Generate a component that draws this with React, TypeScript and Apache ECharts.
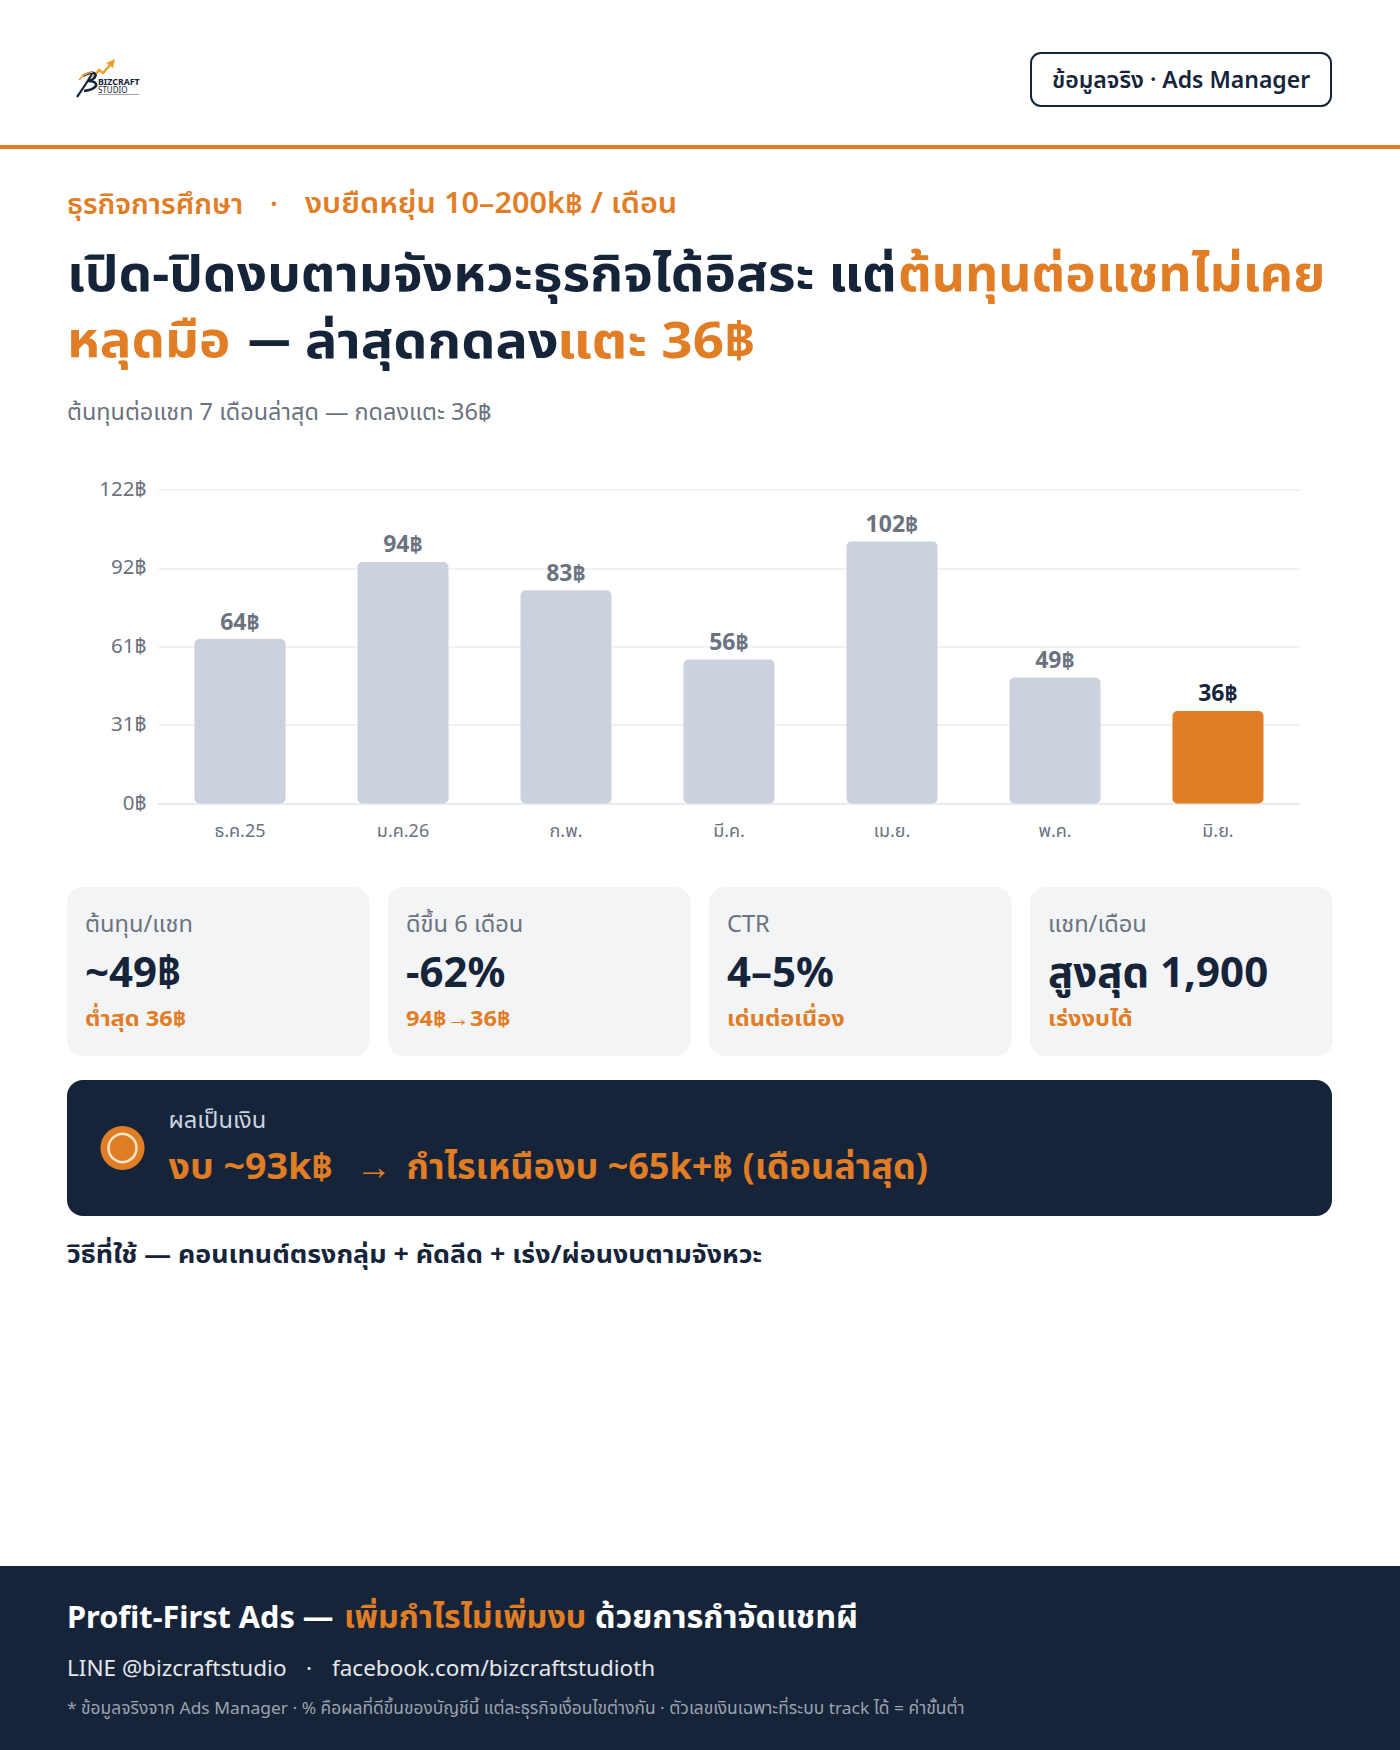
import { useEffect, useRef } from 'react';
import * as echarts from 'echarts';

const months = ['ธ.ค.25', 'ม.ค.26', 'ก.พ.', 'มี.ค.', 'เม.ย.', 'พ.ค.', 'มิ.ย.'];
const costPerChat = [64, 94, 83, 56, 102, 49, 36];

const cardLabels = ['ต้นทุน/แชท', 'ดีขึ้น 6 เดือน', 'CTR', 'แชท/เดือน'];
const cardValues = ['~49฿', '-62%', '4–5%', 'สูงสุด 1,900'];
const cardNotes = ['ต่ำสุด 36฿', '94฿→36฿', 'เด่นต่อเนื่อง', 'เร่งงบได้'];

const ORANGE = '#e07d25';
const NAVY = '#16243a';
const GRAY = '#6b7280';
const FONT = '"Noto Sans", "Noto Sans Thai", sans-serif';

echarts.graphic.registerShape('logoStem', echarts.graphic.extendPath('M92 74 Q86 84 77 97', {}));
echarts.graphic.registerShape(
  'logoBowl',
  echarts.graphic.extendPath('M83 76 Q94 70 95.5 75 Q96 79 88 81 Q97 81 96 86 Q93 90 84 91', {})
);
echarts.graphic.registerShape('logoTop', echarts.graphic.extendPath('M79 80 Q84 73 93 72', {}));

// the reference face is wider than the installed Thai one, so spans take a horizontal scale
function text(x: number, y: number, value: string, fontSize: number, fill: string, fontWeight: number | string = 400, scaleX = 1) {
  return {
    type: 'text',
    x,
    y,
    scaleX,
    style: { text: value, fontSize, fill, fontWeight, fontFamily: FONT, textVerticalAlign: 'middle' }
  };
}

function cardElements() {
  return cardLabels.flatMap((label, i) => {
    const left = 67 + i * 321;
    return [
      { type: 'rect', shape: { x: left, y: 887, width: 302.5, height: 169, r: 16 }, style: { fill: '#f3f4f6' } },
      text(left + 18, 923, label, 23, GRAY, 400, 1.03),
      text(left + 18, 970, cardValues[i], 42, NAVY, 700),
      text(left + 18, 1018, cardNotes[i], 22, ORANGE, 700, 1.07)
    ];
  });
}

function buildOption() {
  return {
    animation: false,
    grid: { left: 158.5, right: 100.5, top: 490, height: 313.5 },
    xAxis: {
      type: 'category',
      data: months,
      axisTick: { show: false },
      axisLine: { lineStyle: { color: '#e5e7eb', width: 1.5 } },
      axisLabel: { color: GRAY, fontSize: 18, fontFamily: FONT, margin: 17 }
    },
    yAxis: {
      type: 'value',
      min: 0,
      max: 122,
      interval: 30.5,
      axisLine: { show: false },
      axisTick: { show: false },
      splitLine: { lineStyle: { color: '#eceef1', width: 1.5 } },
      axisLabel: {
        margin: 12,
        formatter: (value: number) => `{v|${Math.round(value)}฿}`,
        rich: { v: { color: GRAY, fontSize: 20.5, fontFamily: FONT, padding: [0, 0, 4, 0] } }
      }
    },
    series: [
      {
        type: 'bar',
        barWidth: 91,
        data: costPerChat.map((value, i) => ({
          value,
          itemStyle: { color: i === costPerChat.length - 1 ? ORANGE : '#cbd2de', borderRadius: 5 },
          label: { color: i === costPerChat.length - 1 ? NAVY : GRAY }
        })),
        label: {
          show: true,
          position: 'top',
          distance: 7,
          fontSize: 23,
          fontWeight: 700,
          fontFamily: FONT,
          formatter: (params: any) => `${params.value}฿`
        }
      }
    ],
    graphic: {
      elements: [
        { type: 'rect', shape: { x: 0, y: 145, width: 1400, height: 4 }, style: { fill: ORANGE } },
        // logo
        { type: 'polyline', shape: { points: [[93, 78], [99, 70], [103, 73], [111, 64]] }, style: { stroke: '#eda02f', fill: 'none', lineWidth: 2.5 } },
        { type: 'polygon', shape: { points: [[115, 59], [113, 68], [106, 63]] }, style: { fill: '#eda02f' } },
        { type: 'logoStem', style: { fill: 'none', stroke: NAVY, lineWidth: 2.2 } },
        { type: 'logoBowl', style: { fill: 'none', stroke: NAVY, lineWidth: 2.6 } },
        { type: 'logoTop', style: { fill: 'none', stroke: '#eda02f', lineWidth: 1.6 } },
        text(98, 81.5, 'BIZCRAFT', 8.8, NAVY, 700),
        text(98, 89.5, 'STUDIO', 8, NAVY),
        { type: 'line', shape: { x1: 98, y1: 94.5, x2: 139, y2: 94.5 }, style: { stroke: '#9aa3af', lineWidth: 1 } },
        // badge
        { type: 'rect', shape: { x: 1031, y: 53, width: 300, height: 53, r: 10 }, style: { fill: '#fff', stroke: NAVY, lineWidth: 2 } },
        text(1052, 78.5, 'ข้อมูลจริง · Ads Manager', 23, NAVY, 600),
        // headline
        text(67, 203, 'ธุรกิจการศึกษา', 28, ORANGE, 600, 1.03),
        text(270, 203, '·', 28, ORANGE, 600),
        text(305, 203, 'งบยืดหยุ่น 10–200k฿ / เดือน', 28, ORANGE, 600, 1.095),
        text(67, 272, 'เปิด-ปิดงบตามจังหวะธุรกิจได้อิสระ แต่', 50, NAVY, 700, 1.064),
        text(898, 272, 'ต้นทุนต่อแชทไม่เคย', 50, ORANGE, 700, 1.032),
        text(67, 338, 'หลุดมือ', 50, ORANGE, 700, 1.056),
        text(248, 338, '—', 50, NAVY, 700, 0.85),
        text(305, 338, 'ล่าสุดกดลง', 50, NAVY, 700, 1.08),
        text(557, 338, 'แตะ 36฿', 50, ORANGE, 700, 1.096),
        text(67, 411, 'ต้นทุนต่อแชท 7 เดือนล่าสุด — กดลงแตะ 36฿', 23, GRAY, 400, 1.02),
        ...cardElements(),
        // result strip
        { type: 'rect', shape: { x: 67, y: 1080, width: 1265, height: 136, r: 16 }, style: { fill: NAVY } },
        { type: 'circle', shape: { cx: 122.5, cy: 1148, r: 22 }, style: { fill: ORANGE } },
        { type: 'circle', shape: { cx: 122.5, cy: 1148, r: 14 }, style: { fill: ORANGE, stroke: '#fbe3c8', lineWidth: 2.5 } },
        text(168.5, 1119, 'ผลเป็นเงิน', 23, '#cbd5e1', 400, 1.03),
        text(168.5, 1165, 'งบ ~93k฿', 36, ORANGE, 700, 1.044),
        text(356, 1165, '→', 36, ORANGE, 700),
        text(406.5, 1165, 'กำไรเหนืองบ ~65k+฿ (เดือนล่าสุด)', 36, ORANGE, 700),
        text(67, 1253, 'วิธีที่ใช้ — คอนเทนต์ตรงกลุ่ม + คัดลีด + เร่ง/ผ่อนงบตามจังหวะ', 25, NAVY, 700, 1.072),
        // footer
        { type: 'rect', shape: { x: 0, y: 1566, width: 1400, height: 184 }, style: { fill: NAVY } },
        text(67, 1616, 'Profit-First Ads —', 31, '#ffffff', 700, 0.99),
        text(344, 1616, 'เพิ่มกำไรไม่เพิ่มงบ', 31, ORANGE, 700, 1.04),
        text(595, 1616, 'ด้วยการกำจัดแชทผี', 31, '#ffffff', 700, 1.044),
        text(67, 1667, 'LINE @bizcraftstudio', 22.5, '#e5e7eb'),
        text(306, 1667, '·', 22.5, '#e5e7eb'),
        text(332, 1667, 'facebook.com/bizcraftstudioth', 22.5, '#e5e7eb'),
        text(67, 1708, '* ข้อมูลจริงจาก Ads Manager · % คือผลที่ดีขึ้นของบัญชีนี้ แต่ละธุรกิจเงื่อนไขต่างกัน · ตัวเลขเงินเฉพาะที่ระบบ track ได้ = ค่าขั้นต่ำ', 17, '#9ca3af', 400, 1.024)
      ]
    }
  };
}

export default function App() {
  const containerRef = useRef<HTMLDivElement | null>(null);

  useEffect(() => {
    if (!containerRef.current) return undefined;
    document.body.style.margin = '0';
    const chart = echarts.init(containerRef.current, undefined, { renderer: 'svg' });
    chart.setOption(buildOption() as any);
    return () => chart.dispose();
  }, []);

  return <div ref={containerRef} style={{ width: 1400, height: 1750, background: '#fff' }} />;
}
